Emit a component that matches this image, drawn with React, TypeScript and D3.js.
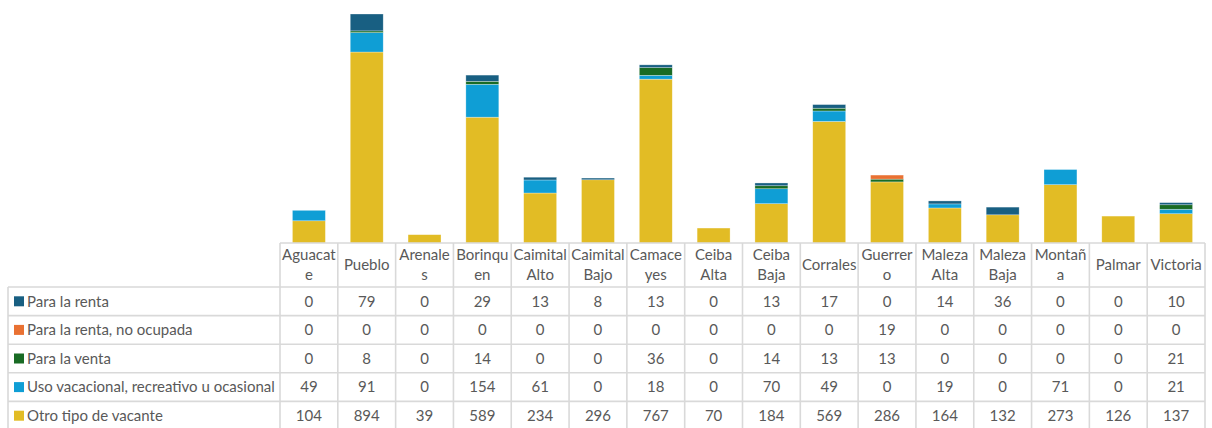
import React from "react";
import * as d3 from "d3";

const categories = ["Aguacate","Pueblo","Arenales","Borinquen","Caimital Alto","Caimital Bajo","Camaceyes","Ceiba Alta","Ceiba Baja","Corrales","Guerrero","Maleza Alta","Maleza Baja","Montaña","Palmar","Victoria"];
const categoryLines = [["Aguacat","e"],["Pueblo"],["Arenale","s"],["Borinqu","en"],["Caimital","Alto"],["Caimital","Bajo"],["Camace","yes"],["Ceiba","Alta"],["Ceiba","Baja"],["Corrales"],["Guerrer","o"],["Maleza","Alta"],["Maleza","Baja"],["Montañ","a"],["Palmar"],["Victoria"]];

const seriesNames = ["Para la renta","Para la renta, no ocupada","Para la venta","Uso vacacional, recreativo u ocasional","Otro tipo de vacante"];
const paraLaRenta = [0,79,0,29,13,8,13,0,13,17,0,14,36,0,0,10];
const paraLaRentaNoOcupada = [0,0,0,0,0,0,0,0,0,0,19,0,0,0,0,0];
const paraLaVenta = [0,8,0,14,0,0,36,0,14,13,13,0,0,0,0,21];
const usoVacacional = [49,91,0,154,61,0,18,0,70,49,0,19,0,71,0,21];
const otroTipo = [104,894,39,589,234,296,767,70,184,569,286,164,132,273,126,137];
const seriesColors = ["#185F82","#E97132","#196B24","#0F9ED5","#E2BC25"];

const seriesValues = [paraLaRenta, paraLaRentaNoOcupada, paraLaVenta, usoVacacional, otroTipo];

export default function App() {
  const W = 1212, H = 428;
  const tableLeft = 280, tableRight = 1205;
  const plotBottom = 243, plotTop = 14;
  const x = d3.scaleBand<string>().domain(categories).range([tableLeft, tableRight]).paddingInner(0.43).paddingOuter(0.215);
  const step = x.step();
  const y = d3.scaleLinear().domain([0, 1072]).range([plotBottom, plotTop]);

  // stack from bottom: Otro, Uso, Venta, No ocupada, Renta
  const keys = [4, 3, 2, 1, 0];
  const rows = categories.map((c, i) => {
    const o: any = { cat: c };
    keys.forEach(k => (o["s" + k] = seriesValues[k][i]));
    return o;
  });
  const stack = d3.stack<any>().keys(keys.map(k => "s" + k));
  const stacked = stack(rows);

  const headerBottom = 287;
  const rowH = 28.6;
  const font = "Lato, 'Noto Sans', sans-serif";
  const fs = 15;
  const textColor = "#595959";
  const border = "#D9D9D9";

  return (
    <svg width={W} height={H} style={{ position: "absolute", left: 0, top: 0, background: "#fff" }}>
      {stacked.map((layer, li) => {
        const k = keys[li];
        return (
          <g key={li}>
            {layer.map((d, i) => {
              const h = y(d[0]) - y(d[1]);
              if (h <= 0) return null;
              return (
                <rect key={i} x={x(categories[i])} y={y(d[1])} width={x.bandwidth()} height={h}
                  fill={seriesColors[k]} stroke="#ffffff" strokeOpacity={0.5} strokeWidth={0.6} />
              );
            })}
          </g>
        );
      })}
      {/* table grid */}
      <g stroke={border} strokeWidth={1.6} fill="none">
        <line x1={tableLeft} x2={tableRight} y1={plotBottom} y2={plotBottom} />
        {d3.range(seriesNames.length + 1).map(r => (
          <line key={"h" + r} x1={8} x2={tableRight} y1={headerBottom + r * rowH} y2={headerBottom + r * rowH} />
        ))}
        <line x1={8} x2={8} y1={headerBottom} y2={H} />
        {d3.range(categories.length + 1).map(c => (
          <line key={"v" + c} x1={tableLeft + c * step} x2={tableLeft + c * step} y1={plotBottom} y2={H} />
        ))}
      </g>
      {/* header labels */}
      <g fontFamily={font} fontSize={fs} fill={textColor} textAnchor="middle">
        {categoryLines.map((lines, i) => {
          const cx = tableLeft + (i + 0.5) * step;
          const mid = (plotBottom + headerBottom) / 2;
          const lh = 20;
          return (
            <text key={i} x={cx} y={mid - ((lines.length - 1) * lh) / 2}>
              {lines.map((l, j) => (
                <tspan key={j} x={cx} dy={j === 0 ? "0.35em" : lh}>{l}</tspan>
              ))}
            </text>
          );
        })}
      </g>
      {/* rows */}
      {seriesNames.map((name, r) => {
        const cy = headerBottom + (r + 0.5) * rowH;
        return (
          <g key={r} fontFamily={font} fontSize={fs} fill={textColor}>
            <rect x={14} y={cy - 5} width={10} height={10} fill={seriesColors[r]} />
            <text x={27} y={cy} dy="0.35em">{name}</text>
            {seriesValues[r].map((v, i) => (
              <text key={i} x={tableLeft + (i + 0.5) * step} y={cy} dy="0.35em" textAnchor="middle">{v}</text>
            ))}
          </g>
        );
      })}
    </svg>
  );
}
